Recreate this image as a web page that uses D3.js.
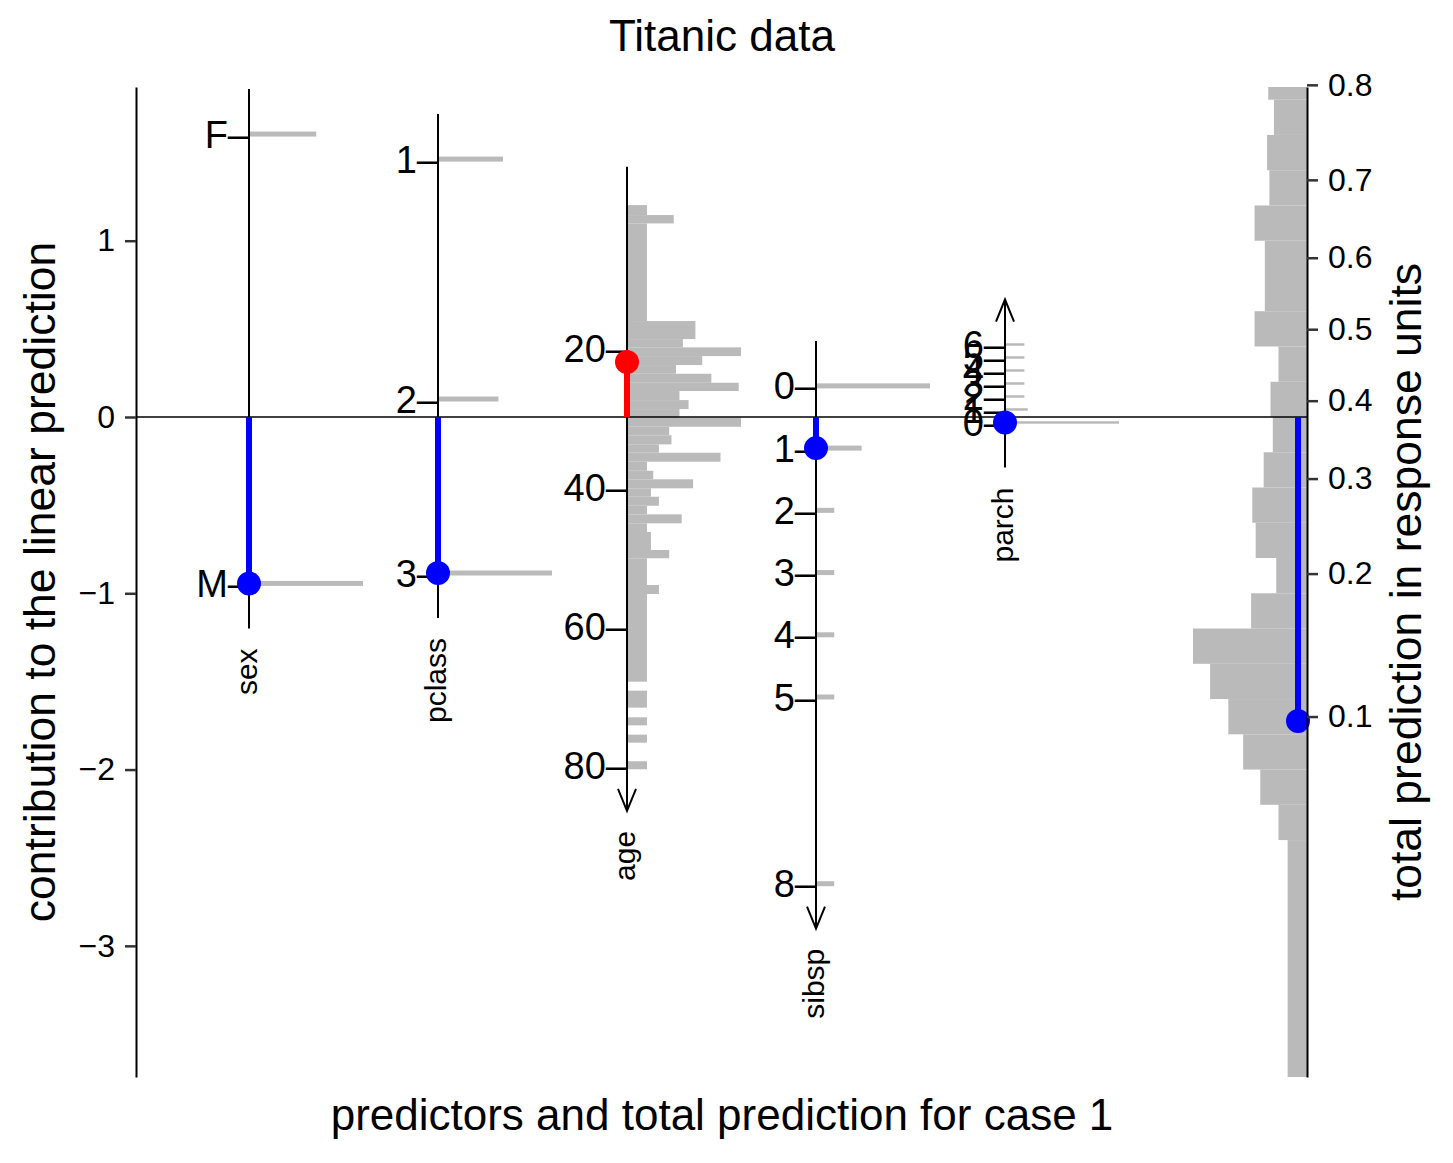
<!DOCTYPE html>
<html><head><meta charset="utf-8">
<script src="https://cdn.jsdelivr.net/npm/d3@7"></script>
<style>
body{margin:0;background:#fff}
text{font-family:"Liberation Sans",Arial,Helvetica,sans-serif;fill:#000}
</style>
</head><body>
<svg id="chart" width="1453" height="1163"></svg>
<script>
// ---------------- data ----------------
const predictorNames = ["sex", "pclass", "age", "sibsp", "parch"];

const sexLevels = ["F", "M"];
const sexContrib = [1.605, -0.944];
const sexFreq = [0.59, 1.0];
const caseSex = "M";

const pclassLevels = ["1", "2", "3"];
const pclassContrib = [1.463, 0.102, -0.885];
const pclassFreq = [0.57, 0.53, 1.0];
const casePclass = "3";

const ageTicks = [20, 40, 60, 80];
const ageRange = [0.42, 80];
const ageCoef = [-0.0395, 29.9];       // slope, centre
const caseAge = 22;
// [age from, age to, relative frequency]
const ageHist = [
  [-0.53, 0.90, 0.175], [0.90, 2.10, 0.41], [2.10, 16.12, 0.175], [16.12, 18.71, 0.60],
  [18.71, 19.90, 0.49], [19.90, 21.15, 1.0], [21.15, 22.44, 0.66], [22.44, 23.69, 0.43],
  [23.69, 24.98, 0.74], [24.98, 26.17, 0.98], [26.17, 27.47, 0.46], [27.47, 28.76, 0.54],
  [28.76, 30.01, 0.46], [30.01, 31.30, 1.0], [31.30, 32.53, 0.37], [32.53, 33.83, 0.39],
  [33.83, 35.03, 0.28], [35.03, 36.32, 0.82], [36.32, 37.62, 0.175], [37.62, 38.85, 0.23],
  [38.85, 40.14, 0.58], [40.14, 41.35, 0.21], [41.35, 42.64, 0.28], [42.64, 43.88, 0.175],
  [43.88, 45.17, 0.48], [45.17, 46.42, 0.175], [46.42, 49.00, 0.21], [49.00, 50.19, 0.37],
  [50.19, 54.03, 0.175], [54.03, 55.32, 0.28], [55.32, 67.91, 0.175], [69.20, 71.64, 0.175],
  [73.03, 74.18, 0.175], [75.52, 76.67, 0.175], [79.34, 80.49, 0.175]
];

const sibspLevels = [0, 1, 2, 3, 4, 5, 8];
const sibspFreq = [1.0, 0.40, 0.16, 0.16, 0.16, 0.16, 0.16];
const sibspCoef = [-0.353, 0.5];
const caseSibsp = 1;

const parchLevels = [0, 1, 2, 3, 4, 5, 6];
const parchFreq = [1.0, 0.2, 0.17, 0.17, 0.17, 0.17, 0.17];
const parchCoef = [0.0737, 0.42];
const caseParch = 0;

const lpTicks = [-3, -2, -1, 0, 1];
const lpOffset = -0.498;              // linear predictor at the zero line
const probTicks = [0.1, 0.2, 0.3, 0.4, 0.5, 0.6, 0.7, 0.8];
// total linear predictor distribution: [lp top, lp bottom, relative frequency]
const lpHist = [
  [1.872, 1.8, 0.34], [1.8, 1.6, 0.29], [1.6, 1.4, 0.35], [1.4, 1.2, 0.33],
  [1.2, 1.0, 0.46], [1.0, 0.6, 0.37], [0.6, 0.4, 0.46], [0.4, 0.2, 0.25],
  [0.2, 0.0, 0.32], [0.0, -0.2, 0.30], [-0.2, -0.4, 0.38], [-0.4, -0.6, 0.48],
  [-0.6, -0.8, 0.45], [-0.8, -1.0, 0.27], [-1.0, -1.2, 0.49], [-1.2, -1.4, 1.0],
  [-1.4, -1.6, 0.85], [-1.6, -1.8, 0.69], [-1.8, -2.0, 0.56], [-2.0, -2.2, 0.41],
  [-2.2, -2.4, 0.25], [-2.4, -3.744, 0.17]
];

// ---------------- layout ----------------
const GRAY = "#bababa", BLUE = "#0000ff", RED = "#ff0000";
const svg = d3.select("#chart");
svg.append("rect").attr("width", 1453).attr("height", 1163).attr("fill", "#fff");

const y = d3.scaleLinear().domain([-3.744, 1.872]).range([1077, 87]);
const x = d3.scalePoint().domain(predictorNames).range([249, 1005]);
const hLen = d3.scaleLinear().domain([0, 1]).range([0, 114]);
const leftX = 136, rightX = 1307;
const EXT = 45, TICKFS = 38, NAMEFS = 30;
const logit = p => Math.log(p / (1 - p));

const lin = c => v => c[0] * (v - c[1]);
const specs = [
  { name: "sex", levels: sexLevels, contrib: sexContrib, freq: sexFreq,
    caseC: sexContrib[sexLevels.indexOf(caseSex)], thick: 5 },
  { name: "pclass", levels: pclassLevels, contrib: pclassContrib, freq: pclassFreq,
    caseC: pclassContrib[pclassLevels.indexOf(casePclass)], thick: 5 },
  { name: "age", levels: ageTicks, contrib: ageTicks.map(lin(ageCoef)), range: ageRange.map(lin(ageCoef)),
    hist: ageHist, f: lin(ageCoef), caseC: lin(ageCoef)(caseAge), arrow: true, slope: ageCoef[0] },
  { name: "sibsp", levels: sibspLevels, contrib: sibspLevels.map(lin(sibspCoef)), freq: sibspFreq,
    caseC: lin(sibspCoef)(caseSibsp), thick: 5, arrow: true, slope: sibspCoef[0] },
  { name: "parch", levels: parchLevels, contrib: parchLevels.map(lin(parchCoef)), freq: parchFreq,
    caseC: lin(parchCoef)(caseParch), thick: 2.5, arrow: true, slope: parchCoef[0] }
];

const gHist = svg.append("g"), gAxes = svg.append("g"), gZero = svg.append("g"), gMarks = svg.append("g");

specs.forEach(s => {
  const cx = x(s.name);
  // histogram
  if (s.hist) {
    gHist.selectAll(null).data(s.hist).join("rect")
      .attr("x", cx).attr("y", d => y(s.f(d[0])))
      .attr("width", d => hLen(d[2]))
      .attr("height", d => y(s.f(d[1])) - y(s.f(d[0])))
      .attr("fill", GRAY);
  } else {
    gHist.selectAll(null).data(s.levels.map((l, i) => [s.contrib[i], s.freq[i]])).join("rect")
      .attr("x", cx).attr("y", d => y(d[0]) - s.thick / 2)
      .attr("width", d => hLen(d[1])).attr("height", s.thick)
      .attr("fill", GRAY);
  }
  // axis line
  const ys = (s.range || s.contrib).map(y);
  const top = d3.min(ys) - EXT, bot = d3.max(ys) + EXT;
  gAxes.append("line").attr("x1", cx).attr("x2", cx).attr("y1", top).attr("y2", bot)
    .attr("stroke", "#000").attr("stroke-width", 2);
  // arrow (direction of increasing value)
  if (s.arrow) {
    const down = s.slope < 0;
    const tip = down ? bot : top, sg = down ? -1 : 1;
    gAxes.append("path")
      .attr("d", `M${cx - 9},${tip + sg * 22}L${cx},${tip}L${cx + 9},${tip + sg * 22}`)
      .attr("fill", "none").attr("stroke", "#000").attr("stroke-width", 2);
  }
  // tick labels (label + dash)
  gAxes.selectAll(null).data(s.levels.map((l, i) => [l, s.contrib[i]])).join("text")
    .attr("x", cx).attr("y", d => y(d[1]) + 0.358 * TICKFS)
    .attr("text-anchor", "end").attr("font-size", TICKFS)
    .text(d => d[0] + "\u2013");
  // variable name
  gAxes.append("text")
    .attr("transform", `translate(${cx + 8},${bot + 20}) rotate(-90)`)
    .attr("text-anchor", "end").attr("font-size", NAMEFS)
    .text(s.name);
  // contribution
  const col = s.caseC < 0 ? BLUE : RED;
  gMarks.append("line").attr("x1", cx).attr("x2", cx).attr("y1", y(0)).attr("y2", y(s.caseC))
    .attr("stroke", col).attr("stroke-width", 6);
  gMarks.append("circle").attr("cx", cx).attr("cy", y(s.caseC)).attr("r", 12).attr("fill", col);
});

// right histogram of total predictions
gHist.selectAll(null).data(lpHist).join("rect")
  .attr("x", d => rightX - hLen(d[2])).attr("y", d => y(d[0]))
  .attr("width", d => hLen(d[2])).attr("height", d => y(d[1]) - y(d[0]))
  .attr("fill", GRAY);

// zero line
gZero.append("line").attr("x1", leftX).attr("x2", rightX).attr("y1", y(0)).attr("y2", y(0))
  .attr("stroke", "#000").attr("stroke-width", 1.6);

// total prediction
const total = d3.sum(specs, s => s.caseC);
gMarks.append("line").attr("x1", rightX - 9).attr("x2", rightX - 9).attr("y1", y(0)).attr("y2", y(total))
  .attr("stroke", BLUE).attr("stroke-width", 6);
gMarks.append("circle").attr("cx", rightX - 9).attr("cy", y(total)).attr("r", 12).attr("fill", BLUE);

// left axis
const la = svg.append("g").attr("transform", `translate(${leftX},0)`)
  .call(d3.axisLeft(y).tickValues(lpTicks).tickFormat(d3.format("d"))
    .tickSize(11).tickSizeOuter(0).tickPadding(10));
// right axis
const ra = svg.append("g").attr("transform", `translate(${rightX},0)`)
  .call(d3.axisRight(y).tickValues(probTicks.map(p => logit(p) - lpOffset))
    .tickFormat((d, i) => probTicks[i]).tickSize(11).tickSizeOuter(0).tickPadding(10));
[la, ra].forEach(a => {
  a.select(".domain").attr("stroke", "#000").attr("stroke-width", 2);
  a.selectAll(".tick line").attr("stroke", "#333").attr("stroke-width", 2.5);
  a.selectAll(".tick text").attr("font-size", 32).attr("font-family", "Liberation Sans, Arial, sans-serif").attr("fill", "#000");
});

// titles
svg.append("text").attr("x", 722).attr("y", 51).attr("text-anchor", "middle").attr("font-size", 44)
  .text("Titanic data");
svg.append("text").attr("x", 722).attr("y", 1130).attr("text-anchor", "middle").attr("font-size", 44)
  .text("predictors and total prediction for case 1");
svg.append("text").attr("transform", "translate(55,582) rotate(-90)").attr("text-anchor", "middle").attr("font-size", 44.5)
  .text("contribution to the linear prediction");
svg.append("text").attr("transform", "translate(1421,582) rotate(-90)").attr("text-anchor", "middle").attr("font-size", 44.5)
  .text("total prediction in response units");
</script>
</body></html>
